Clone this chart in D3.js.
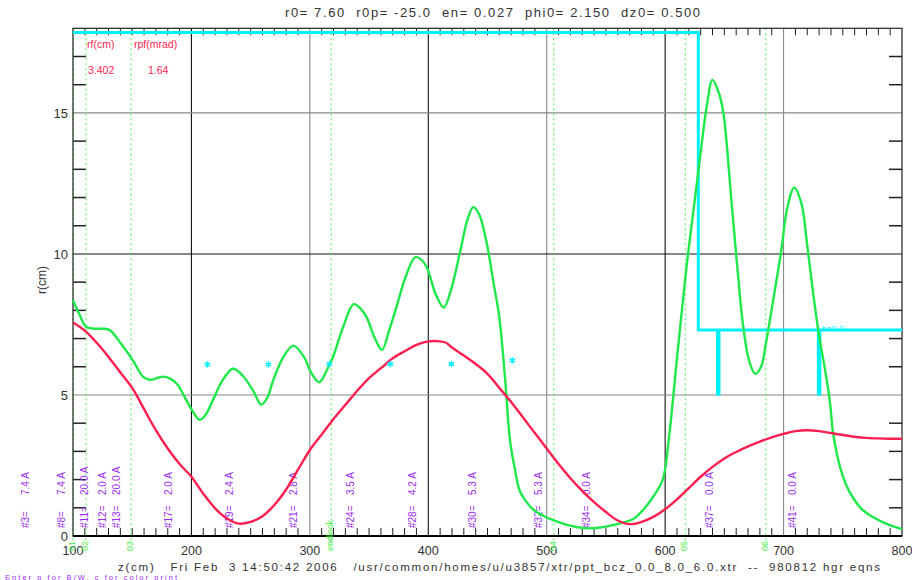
<!DOCTYPE html>
<html><head><meta charset="utf-8">
<script src="https://cdn.jsdelivr.net/npm/d3@7"></script>
<style>
body{margin:0;background:#fff}
svg{display:block}
text{font-family:"Liberation Sans",Arial,sans-serif}
</style>
</head><body>
<svg id="c" width="912" height="580"></svg>
<script>
// ---------- data ----------
const titleText = "r0= 7.60  r0p= -25.0  en= 0.027  phi0= 2.150  dz0= 0.500";
const footerText = "z(cm)   Fri Feb  3 14:50:42 2006   /usr/common/homes/u/u3857/xtr/ppt_bcz_0.0_8.0_6.0.xtr  --  980812 hgr eqns";
const promptText = "Enter p for B/W, c for color print";

const xTicks = [100, 200, 300, 400, 500, 600, 700, 800];
const yTicks = [0, 5, 10, 15];
const gridZ = [200, 300, 400, 500, 600, 700];
const gridZDark = [true, false, true, false, true, false];
const gridR = [5, 10, 15];
const gridRDark = [false, true, false];

// rf(cm) envelope (red)
const redZ = [100,110,120,130,140,150,160,170,180,190,200,210,220,230,240,250,260,270,280,290,300,310,320,330,340,350,360,370,380,390,400,410,415,420,430,440,450,460,470,480,490,500,510,520,530,540,550,560,570,580,590,600,610,620,630,640,650,660,670,680,690,700,710,720,730,740,750,760,770,780,790,800];
const redR = [7.57,7.28,6.85,6.35,5.8,5.25,4.5,3.75,3.1,2.55,2.1,1.5,0.98,0.62,0.44,0.5,0.7,1.1,1.65,2.35,3.05,3.6,4.15,4.65,5.15,5.6,5.95,6.3,6.55,6.78,6.9,6.9,6.85,6.68,6.4,6.1,5.75,5.25,4.75,4.2,3.65,3.1,2.55,2.05,1.6,1.2,0.85,0.55,0.42,0.5,0.68,0.95,1.3,1.7,2.1,2.45,2.75,2.98,3.18,3.35,3.5,3.62,3.72,3.75,3.72,3.65,3.58,3.52,3.48,3.46,3.45,3.45];

// beam edge (green)
const greenZ = [100,105,111,118,125,131,140,151,159,165,171,176,182,188,194,200,207,212,218,226,235,243,252,259,264,269,277,286,295,301,308,314,320,328,337,343,348,355,361,367,373,381,389,394,399,406,413,419,427,433,438,443,449,455,460,465,469,473,477,483,489,497,505,515,525,535,545,555,562,573,582,590,598,603,610,618,625,630,635,640,645,649,656,661,666,671,676,681,685,691,698,703,709,715,720,725,730,735,739,742,748,753,758,766,775,786,798,800];
const greenR = [8.36,7.9,7.42,7.35,7.35,7.3,6.85,6.2,5.65,5.54,5.6,5.65,5.58,5.38,4.95,4.5,4.12,4.3,4.8,5.5,5.93,5.7,5.16,4.66,4.9,5.51,6.3,6.75,6.35,5.8,5.45,5.85,6.4,7.4,8.22,8.05,7.75,7.0,6.6,7.3,8.1,9.2,9.89,9.8,9.5,8.6,8.1,8.7,10.1,11.2,11.66,11.4,10.46,9.0,7.75,5.5,3.39,2.4,1.63,1.2,0.92,0.72,0.57,0.42,0.32,0.27,0.3,0.38,0.45,0.6,0.95,1.4,2.0,3.4,6.3,9.52,11.9,13.6,15.2,16.17,15.75,15.05,11.87,9.5,7.4,6.2,5.75,6.0,6.81,8.3,10.1,11.6,12.35,11.8,10.3,8.6,7.1,5.9,4.8,3.6,2.4,1.8,1.4,0.95,0.68,0.45,0.27,0.25];

// bz profile (cyan step) and solenoid bars
const bzZ = [100, 628, 628, 800];
const bzR = [17.85, 17.85, 7.3, 7.3];
const barZ = [644.6, 729.8];
const barTop = 7.3, barBottom = 4.98;
const bzLabel = "bz/1.0";

// cyan asterisks
const starZ = [213.5, 265, 316.5, 368, 419.5, 471];
const starR = [6.08, 6.08, 6.1, 6.1, 6.1, 6.22];

// element markers (green dotted) and labels
const markZ = [100, 111, 149, 318, 506, 617, 685];
const markLabel = ["01", "02", "03", "endlock", "04", "05", "06"];

// rf cavity labels (purple)
const cavZ = [60.3, 90.7, 110, 125, 137, 181, 232, 286, 334.6, 387, 437.6, 493, 533.7, 637.6, 707.6];
const cavName = ["#3=", "#8=", "#11=", "#12=", "#13=", "#17=", "#19=", "#21=", "#24=", "#28=", "#30=", "#32=", "#34=", "#37=", "#41="];
const cavVal = ["7.4 A", "7.4 A", "20.0 A", "2.0 A", "20.0 A", "2.0 A", "2.4 A", "2.8 A", "3.5 A", "4.2 A", "5.3 A", "5.3 A", "0.0 A", "0.0 A", "0.0 A"];

// legend
const legendHead = ["rf(cm)", "rpf(mrad)"];
const legendVal = ["3.402", "1.64"];

// ---------- drawing ----------
const svg = d3.select("#c");
const L = 73, R = 902, T = 28.3, B = 536;
const x = d3.scaleLinear().domain([100, 800]).range([L, R]);
const y = d3.scaleLinear().domain([0, 18]).range([B, T]);

const RED = "#ff1e50", GREEN = "#1fe84a", CYAN = "#00f0ff", PURPLE = "#9a2cf2", LGREEN = "#4cf04c", TXT = "#333";

svg.append("rect").attr("width", 912).attr("height", 580).attr("fill", "#fff");

// grid
svg.append("g").selectAll("line").data(gridZ).join("line")
  .attr("x1", d => x(d)).attr("x2", d => x(d)).attr("y1", T).attr("y2", B)
  .attr("stroke", (d, i) => gridZDark[i] ? "#111" : "#888").attr("stroke-width", 1.1);
svg.append("g").selectAll("line").data(gridR).join("line")
  .attr("x1", L).attr("x2", R).attr("y1", d => y(d)).attr("y2", d => y(d))
  .attr("stroke", (d, i) => gridRDark[i] ? "#111" : "#888").attr("stroke-width", 1.1);

// minor ticks
const minorZ = d3.range(110, 800, 10).filter(v => v % 100 !== 0);
const minorR = d3.range(1, 18, 1).filter(v => v % 5 !== 0);
const tk = svg.append("g").attr("stroke", "#222").attr("stroke-width", 1);
tk.selectAll(".bt").data(minorZ).join("line").attr("x1", d => x(d)).attr("x2", d => x(d)).attr("y1", B).attr("y2", B - 8);
tk.selectAll(".tt").data(minorZ).join("line").attr("x1", d => x(d)).attr("x2", d => x(d)).attr("y1", T).attr("y2", T + 7);
tk.selectAll(".lt").data(minorR).join("line").attr("x1", L).attr("x2", L + 13).attr("y1", d => y(d)).attr("y2", d => y(d)).attr("stroke-width", 1.5);
tk.selectAll(".rt").data(minorR).join("line").attr("x1", R).attr("x2", R - 13).attr("y1", d => y(d)).attr("y2", d => y(d)).attr("stroke-width", 1.5);

// green dotted element markers
svg.append("g").selectAll("line").data(markZ).join("line")
  .attr("x1", d => x(d)).attr("x2", d => x(d)).attr("y1", T).attr("y2", B + 8)
  .attr("stroke", LGREEN).attr("stroke-width", 1).attr("stroke-dasharray", "2,3");

// frame
svg.append("rect").attr("x", L).attr("y", T).attr("width", R - L).attr("height", B - T)
  .attr("fill", "none").attr("stroke", "#222").attr("stroke-width", 1.2);
svg.append("line").attr("x1", L).attr("x2", R).attr("y1", B).attr("y2", B).attr("stroke", "#000").attr("stroke-width", 2);

// axis tick labels
svg.append("g").selectAll("text").data(xTicks).join("text")
  .attr("x", d => x(d)).attr("y", 555).attr("text-anchor", "middle")
  .attr("font-size", 12.5).attr("fill", TXT).text(d => d);
svg.append("g").selectAll("text").data(yTicks).join("text")
  .attr("x", 68).attr("y", d => y(d) + 5).attr("text-anchor", "end")
  .attr("font-size", 13).attr("fill", TXT).text(d => d);

// y label
svg.append("text").attr("transform", "translate(46,280) rotate(-90)")
  .attr("text-anchor", "middle").attr("font-size", 12).attr("fill", TXT).text("r(cm)");

// title
svg.append("text").attr("x", 285).attr("y", 17).attr("font-size", 13).attr("fill", TXT)
  .attr("textLength", 415).attr("lengthAdjust", "spacing").style("white-space", "pre").text(titleText);

// footer
svg.append("text").attr("x", 118).attr("y", 571).attr("font-size", 11.5).attr("fill", TXT)
  .attr("textLength", 762).attr("lengthAdjust", "spacing").style("white-space", "pre").text(footerText);
svg.append("text").attr("x", 5).attr("y", 579.5).attr("font-size", 7.5).attr("fill", PURPLE)
  .attr("textLength", 172).attr("lengthAdjust", "spacing").text(promptText);

// marker labels
svg.append("g").selectAll("text").data(markZ).join("text")
  .attr("transform", d => `translate(${x(d) + 2},551) rotate(-90)`)
  .attr("font-size", 9).attr("fill", LGREEN).text((d, i) => markLabel[i]);

// cavity labels
const cg = svg.append("g").attr("fill", PURPLE).attr("font-size", 10);
cg.selectAll(".n").data(cavZ).join("text")
  .attr("transform", d => `translate(${x(d) + 3.5},528) rotate(-90)`).text((d, i) => cavName[i]);
cg.selectAll(".v").data(cavZ).join("text")
  .attr("transform", d => `translate(${x(d) + 3.5},495) rotate(-90)`).text((d, i) => cavVal[i]);

// legend
const lg = svg.append("g").attr("fill", RED).attr("font-size", 10.5);
lg.selectAll(".h").data(legendHead).join("text")
  .attr("x", (d, i) => i === 0 ? 87 : 134).attr("y", 48).text(d => d);
lg.selectAll(".v").data(legendVal).join("text")
  .attr("x", (d, i) => i === 0 ? 88 : 148).attr("y", 74).text(d => d);

// cyan bz
const bzLine = d3.line().x(d => x(d[0])).y(d => y(d[1]));
svg.append("path").datum(bzZ.map((z, i) => [z, bzR[i]])).attr("d", bzLine)
  .attr("fill", "none").attr("stroke", CYAN).attr("stroke-width", 3);
svg.append("g").selectAll("rect").data(barZ).join("rect")
  .attr("x", d => x(d) - 2).attr("width", 4.5).attr("y", y(barTop)).attr("height", y(barBottom) - y(barTop))
  .attr("fill", CYAN);
svg.append("text").attr("x", x(barZ[1]) + 3).attr("y", y(bzR[3]) + 1).attr("font-size", 8)
  .attr("fill", CYAN).text(bzLabel);

// curves
const curve = d3.line().x(d => x(d[0])).y(d => y(d[1])).curve(d3.curveCatmullRom.alpha(0.5));
svg.append("path").datum(greenZ.map((z, i) => [z, greenR[i]])).attr("d", curve)
  .attr("fill", "none").attr("stroke", GREEN).attr("stroke-width", 2.4);
svg.append("path").datum(redZ.map((z, i) => [z, redR[i]])).attr("d", curve)
  .attr("fill", "none").attr("stroke", RED).attr("stroke-width", 2.4);

// stars
svg.append("g").selectAll("path").data(starZ).join("path")
  .attr("transform", (d, i) => `translate(${x(d)},${y(starR[i])})`)
  .attr("d", d3.symbol(d3.symbolAsterisk, 28))
  .attr("fill", "none").attr("stroke", CYAN).attr("stroke-width", 1.5);
</script>
</body></html>
